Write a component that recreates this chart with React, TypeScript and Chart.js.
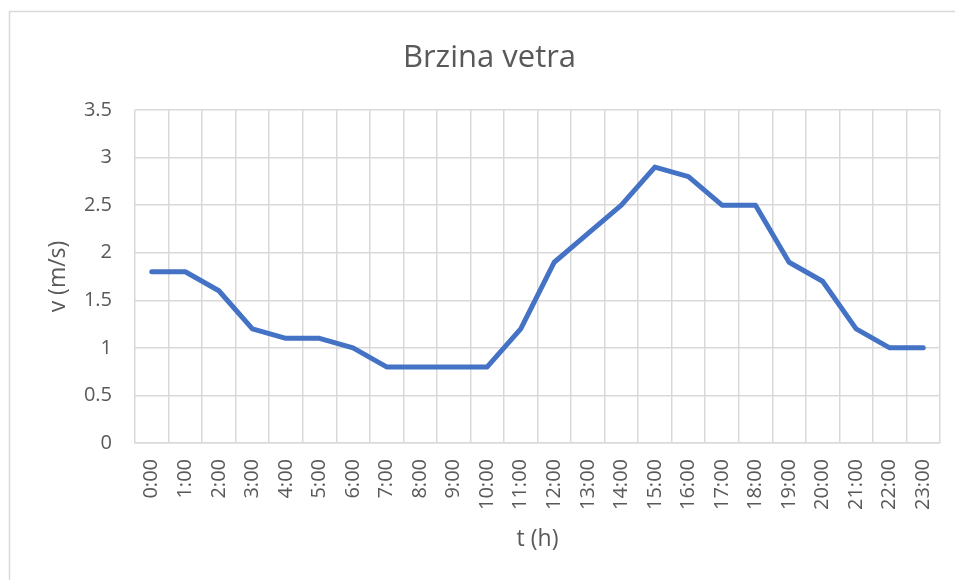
import React, { useEffect, useRef } from "react";
import { Chart, registerables } from "chart.js";

Chart.register(...registerables);

const hours: string[] = [
  "0:00", "1:00", "2:00", "3:00", "4:00", "5:00", "6:00", "7:00",
  "8:00", "9:00", "10:00", "11:00", "12:00", "13:00", "14:00", "15:00",
  "16:00", "17:00", "18:00", "19:00", "20:00", "21:00", "22:00", "23:00",
];

const windSpeed: number[] = [
  1.8, 1.8, 1.6, 1.2, 1.1, 1.1, 1.0, 0.8,
  0.8, 0.8, 0.8, 1.2, 1.9, 2.2, 2.5, 2.9,
  2.8, 2.5, 2.5, 1.9, 1.7, 1.2, 1.0, 1.0,
];

const chartTitle = "Brzina vetra";
const yAxisTitle = "v (m/s)";
const xAxisTitle = "t (h)";
const yMin = 0;
const yMax = 3.5;
const yStep = 0.5;

const FONT = "'Open Sans', 'DejaVu Sans', sans-serif";
const TEXT = "#595959";
const GRID = "#d9d9d9";

const framePlugin = {
  id: "frame",
  beforeDraw(chart: any) {
    const ctx = chart.ctx;
    ctx.save();
    ctx.fillStyle = "#ffffff";
    ctx.fillRect(0, 0, chart.width, chart.height);
    ctx.strokeStyle = GRID;
    ctx.lineWidth = 1.5;
    ctx.strokeRect(9.5, 11.5, chart.width + 20, chart.height + 20);
    ctx.restore();
  },
  afterDraw(chart: any) {
    const ctx = chart.ctx;
    ctx.save();
    ctx.fillStyle = TEXT;
    ctx.font = `31px ${FONT}`;
    ctx.textAlign = "center";
    ctx.textBaseline = "alphabetic";
    ctx.fillText(chartTitle, 489.5, 67);
    ctx.restore();
  },
};

export default function App() {
  const canvasRef = useRef<HTMLCanvasElement | null>(null);

  useEffect(() => {
    const canvas = canvasRef.current;
    if (!canvas) return;
    const chart = new Chart(canvas, {
      type: "line",
      data: {
        labels: hours,
        datasets: [
          {
            label: chartTitle,
            data: windSpeed,
            borderColor: "#4472C4",
            backgroundColor: "#4472C4",
            borderWidth: 5,
            borderCapStyle: "round",
            borderJoinStyle: "round",
            pointRadius: 0,
            pointHoverRadius: 0,
            tension: 0,
            fill: false,
          },
        ],
      },
      options: {
        animation: false,
        responsive: false,
        maintainAspectRatio: false,
        devicePixelRatio: 1,
        layout: { padding: { top: 110, right: 15, left: 0, bottom: 0 } },
        plugins: {
          legend: { display: false },
          title: { display: false },
          tooltip: { enabled: false },
        },
        scales: {
          x: {
            type: "category",
            offset: true,
            grid: {
              offset: true,
              color: GRID,
              lineWidth: 1.5,
              drawTicks: false,
            },
            border: { display: true, color: GRID, width: 1.5 },
            ticks: {
              color: TEXT,
              font: { family: FONT, size: 20 },
              minRotation: 90,
              maxRotation: 90,
              autoSkip: false,
              padding: 16,
            },
            title: {
              display: true,
              text: xAxisTitle,
              color: TEXT,
              font: { family: FONT, size: 23 },
              padding: { top: 0, bottom: 27 },
            },
            afterFit(scale: any) {
              scale.height = 137;
              scale.paddingLeft = 0;
              scale.paddingRight = 0;
            },
          },
          y: {
            min: yMin,
            max: yMax,
            grid: { color: GRID, lineWidth: 1.5, drawTicks: false },
            border: { display: false },
            ticks: {
              stepSize: yStep,
              color: TEXT,
              font: { family: FONT, size: 20 },
              padding: 23,
              callback: (v: any) => String(v),
            },
            title: {
              display: true,
              text: yAxisTitle,
              color: TEXT,
              font: { family: FONT, size: 23 },
              padding: { top: 45, bottom: 0 },
            },
            afterFit(scale: any) {
              scale.width = 135;
              scale.paddingTop = 0;
              scale.paddingBottom = 0;
            },
          },
        },
      },
      plugins: [framePlugin],
    });
    return () => chart.destroy();
  }, []);

  return (
    <div style={{ position: "absolute", left: 0, top: 0, width: 955, height: 580 }}>
      <canvas ref={canvasRef} width={955} height={580} style={{ width: 955, height: 580 }} />
    </div>
  );
}
